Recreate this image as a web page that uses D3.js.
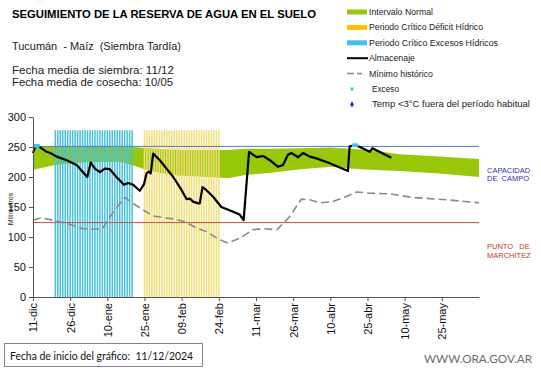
<!DOCTYPE html>
<html>
<head>
<meta charset="utf-8">
<script src="https://cdn.jsdelivr.net/npm/d3@7"></script>
<style>
  body { margin: 0; background: #fff; }
  svg { display: block; font-family: "Liberation Sans", Arial, sans-serif; }
</style>
</head>
<body>
<svg id="chart" width="541" height="368"></svg>
<script>
// --- DATA (days counted from 11-dic-2024) ---
const xTickLabels = ["11-dic", "26-dic", "10-ene", "25-ene", "09-feb", "24-feb",
                     "11-mar", "26-mar", "10-abr", "25-abr", "10-may", "25-may"];
const yTicks = [0, 50, 100, 150, 200, 250, 300];

const capacidadCampo = 251;
const puntoMarchitez = 124;

// intervalo normal (green band)
const bandDays  = [0, 9, 19, 27, 35, 40, 47, 54, 60, 67, 79, 85, 96, 108, 120, 128, 136, 148, 164, 180];
const bandUpper = [251, 251, 251, 251, 250, 250, 248, 246, 245, 245, 245, 247, 247, 248, 249, 247, 245, 238, 234, 230];
const bandLower = [212, 220, 224, 225, 225, 220, 210, 205, 202, 201, 198, 203, 207, 213, 217, 214, 212, 210, 206, 200];

// critical periods (one bar per day)
const excesoPeriodDays  = d3.range(9, 41);
const deficitPeriodDays = d3.range(45, 76);
const periodBarHeight = 278;

// almacenaje
const storageDays   = [0, 1, 2, 5.5, 7, 9.6, 13.6, 17.6, 21.9, 23.3, 25, 27, 29, 31, 33.7, 36.7, 38.4, 40.4,
                       43.1, 44.8, 45.8, 46.8, 47.5, 48.5, 51.2, 53.9, 56.6, 60, 62, 63.3, 64.6, 66.7, 67.3,
                       68.4, 70, 72.7, 76, 80.8, 83.5, 85, 87.2, 90.2, 92.9, 95.6, 98.9, 100.9, 102.9, 104.3,
                       107, 109, 111.7, 114.4, 119.8, 123.8, 127.1, 127.8, 130.2, 131.9, 135.9, 137, 144.6];
const storageValues = [240, 252, 252, 242, 240, 234, 228, 220, 200, 224, 214, 208, 214, 213, 200, 187, 190, 187,
                       177, 188, 206, 209, 206, 239, 228, 214, 200, 178, 163, 164, 159, 156, 156,
                       183, 178, 167, 150, 142, 137, 128, 242, 233, 235, 228, 217, 220, 237, 240,
                       233, 240, 234, 231, 223, 216, 210, 251, 253, 250, 242, 248, 232];

// minimo historico
const minDays   = [0, 3.5, 8, 13.6, 20, 24, 28, 32, 37, 40, 44.5, 48.5, 53, 57, 61, 66, 70, 75.5, 78.6,
                   83.5, 88.7, 92.7, 98.4, 103.6, 108.3, 111.7, 115.7, 121, 126.6, 130.6, 136, 144, 153, 167, 180];
const minValues = [128, 132, 128, 123, 114, 113, 114, 139, 166, 157, 145, 135, 132, 130, 126, 115, 109, 95, 90,
                   98, 112, 114, 112, 134, 163, 162, 157, 159, 168, 175, 173, 172, 166, 162, 157];

// exceso markers
const excesoDays   = [1, 2, 129.5, 130.5];
const excesoValues = [252, 252, 253, 253];

// --- LAYOUT ---
const svg = d3.select("#chart");
const x = d3.scaleLinear().domain([0, 180]).range([33, 479]);
const y = d3.scaleLinear().domain([0, 300]).range([297, 117]);

// stretch a text to the width it has in the original
const fit = (sel, w) => sel.attr("textLength", w).attr("lengthAdjust", "spacingAndGlyphs");

// --- HEADER TEXT ---
fit(svg.append("text").attr("x", 12).attr("y", 18).style("font-size", "10.5px").style("font-weight", "bold")
    .text("SEGUIMIENTO DE LA RESERVA DE AGUA  EN EL SUELO"), 304);
fit(svg.append("text").attr("x", 12).attr("y", 50).style("font-size", "11px").attr("fill", "#222")
    .attr("xml:space", "preserve").text("Tucumán  - Maíz  (Siembra Tardía)"), 169);
fit(svg.append("text").attr("x", 12).attr("y", 74).style("font-size", "10px").attr("fill", "#222")
    .text("Fecha media de siembra: 11/12"), 162);
fit(svg.append("text").attr("x", 12).attr("y", 85.5).style("font-size", "10px").attr("fill", "#222")
    .text("Fecha media de cosecha: 10/05"), 161);

// --- LEGEND ---
const legend = svg.append("g").style("font-size", "8.5px").attr("fill", "#222");
const legendItems = [
    { label: "Intervalo Normal", kind: "bar", color: "#99C70A", w: 64 },
    { label: "Periodo Crítico Déficit Hídrico", kind: "bar", color: "#FFC000", w: 114 },
    { label: "Periodo Crítico Excesos Hídricos", kind: "bar", color: "#3DC4EA", w: 129 },
    { label: "Almacenaje", kind: "line", color: "#000", w: 46 },
    { label: "Mínimo histórico", kind: "dash", color: "#888", w: 64 },
    { label: "Exceso", kind: "square", color: "#3DC4EA", w: 27 },
    { label: "Temp <3°C fuera del período habitual", kind: "diamond", color: "#1F2E9E", w: 158 }
];
legendItems.forEach((d, i) => {
    const ly = 12 + i * 15.4;
    if (d.kind === "bar") {
        legend.append("rect").attr("x", 347).attr("y", ly - 2.5).attr("width", 20).attr("height", 5).attr("fill", d.color);
    } else if (d.kind === "line") {
        legend.append("line").attr("x1", 347).attr("x2", 368).attr("y1", ly).attr("y2", ly)
            .attr("stroke", d.color).attr("stroke-width", 2);
    } else if (d.kind === "dash") {
        legend.append("line").attr("x1", 347).attr("x2", 368).attr("y1", ly).attr("y2", ly)
            .attr("stroke", d.color).attr("stroke-width", 1.5).attr("stroke-dasharray", "7,3,5");
    } else if (d.kind === "square") {
        legend.append("rect").attr("x", 350.5).attr("y", ly - 1.5).attr("width", 3).attr("height", 3).attr("fill", d.color);
    } else {
        legend.append("path").attr("d", d3.symbol(d3.symbolDiamond, 12)()).attr("transform", `translate(352,${ly})`)
            .attr("fill", d.color);
    }
    const tx = (d.kind === "square" || d.kind === "diamond") ? 372 : 369;
    fit(legend.append("text").attr("x", tx).attr("y", ly + 3).text(d.label), d.w);
});

// --- PLOT ---
const plot = svg.append("g");

// intervalo normal band
const bandData = bandDays.map((d, i) => ({ day: d, hi: bandUpper[i], lo: bandLower[i] }));
plot.append("path").datum(bandData)
    .attr("fill", "#99C70A")
    .attr("d", d3.area().x(d => x(d.day)).y0(d => y(d.lo)).y1(d => y(d.hi)));

// critical period stripes
const stripes = (days, color) => {
    plot.append("g").selectAll("rect").data(days).join("rect")
        .attr("x", d => x(d) - 0.75).attr("width", 1.5)
        .attr("y", y(periodBarHeight)).attr("height", y(0) - y(periodBarHeight))
        .attr("fill", color);
};
stripes(excesoPeriodDays, "#48C2DC");
stripes(deficitPeriodDays, "#F3DF78");

// reference lines
plot.append("line").attr("x1", x(0)).attr("x2", x(180)).attr("y1", y(capacidadCampo)).attr("y2", y(capacidadCampo))
    .attr("stroke", "#5B76C4").attr("stroke-width", 1);
plot.append("line").attr("x1", x(0)).attr("x2", x(180)).attr("y1", y(puntoMarchitez)).attr("y2", y(puntoMarchitez))
    .attr("stroke", "#C0504D").attr("stroke-width", 1);

// minimo historico
const minData = minDays.map((d, i) => ({ day: d, v: minValues[i] }));
plot.append("path").datum(minData)
    .attr("fill", "none").attr("stroke", "#8A8A8A").attr("stroke-width", 1.6)
    .attr("stroke-dasharray", "8,4")
    .attr("d", d3.line().x(d => x(d.day)).y(d => y(d.v)));

// almacenaje
const storageData = storageDays.map((d, i) => ({ day: d, v: storageValues[i] }));
plot.append("path").datum(storageData)
    .attr("fill", "none").attr("stroke", "#000").attr("stroke-width", 2.2).attr("stroke-linejoin", "round")
    .attr("d", d3.line().x(d => x(d.day)).y(d => y(d.v)));

// exceso markers
plot.append("g").selectAll("rect").data(excesoDays).join("rect")
    .attr("x", d => x(d) - 1.8).attr("y", (d, i) => y(excesoValues[i]) - 1.8)
    .attr("width", 3.6).attr("height", 3.6).attr("fill", "#3DC4EA");

// --- AXES ---
const yAxis = svg.append("g").attr("transform", `translate(${x(0)},0)`)
    .call(d3.axisLeft(y).tickValues(yTicks).tickSize(4).tickSizeOuter(0));
yAxis.select(".domain").attr("stroke", "#555");
yAxis.selectAll(".tick line").attr("stroke", "#555");
yAxis.selectAll(".tick text").style("font-size", "11px").attr("fill", "#111").attr("x", -7);

const xAxis = svg.append("g").attr("transform", `translate(0,${y(0)})`)
    .call(d3.axisBottom(x).tickValues(xTickLabels.map((d, i) => i * 15)).tickSize(4).tickSizeOuter(0)
        .tickFormat((d, i) => xTickLabels[i]));
xAxis.select(".domain").attr("stroke", "#555");
xAxis.selectAll(".tick line").attr("stroke", "#555");
xAxis.selectAll(".tick text").style("font-size", "11px").attr("fill", "#111")
    .attr("transform", "rotate(-90)").attr("text-anchor", "end")
    .attr("x", -6).attr("y", 0).attr("dy", "0.35em");

svg.append("text").attr("transform", "translate(13,209) rotate(-90)").attr("text-anchor", "middle")
    .style("font-size", "7px").attr("fill", "#222").text("Milímetros");

// --- SIDE LABELS ---
const side = svg.append("g").style("font-size", "7.5px");
side.append("text").attr("x", 487).attr("y", 173).attr("fill", "#3535A8").text("CAPACIDAD");
side.append("text").attr("x", 487).attr("y", 181).attr("fill", "#3535A8").attr("xml:space", "preserve").text("DE  CAMPO");
side.append("text").attr("x", 487).attr("y", 249).attr("fill", "#C0392B").attr("xml:space", "preserve").text("PUNTO   DE");
side.append("text").attr("x", 487).attr("y", 258).attr("fill", "#C0392B").text("MARCHITEZ");

// --- FOOTER ---
svg.append("rect").attr("x", 4.5).attr("y", 343.5).attr("width", 198).attr("height", 23)
    .attr("fill", "#fff").attr("stroke", "#8E7F8E");
fit(svg.append("text").attr("x", 10).attr("y", 360).style("font-family", "Lato, sans-serif").style("font-size", "11px")
    .attr("fill", "#111").attr("xml:space", "preserve").text("Fecha de inicio del gráfico:  11/12/2024"), 183);
fit(svg.append("text").attr("x", 424).attr("y", 363)
    .style("font-family", "Lato, sans-serif").style("font-size", "11px").attr("fill", "#6E6E6E")
    .text("WWW.ORA.GOV.AR"), 108);
</script>
</body>
</html>
